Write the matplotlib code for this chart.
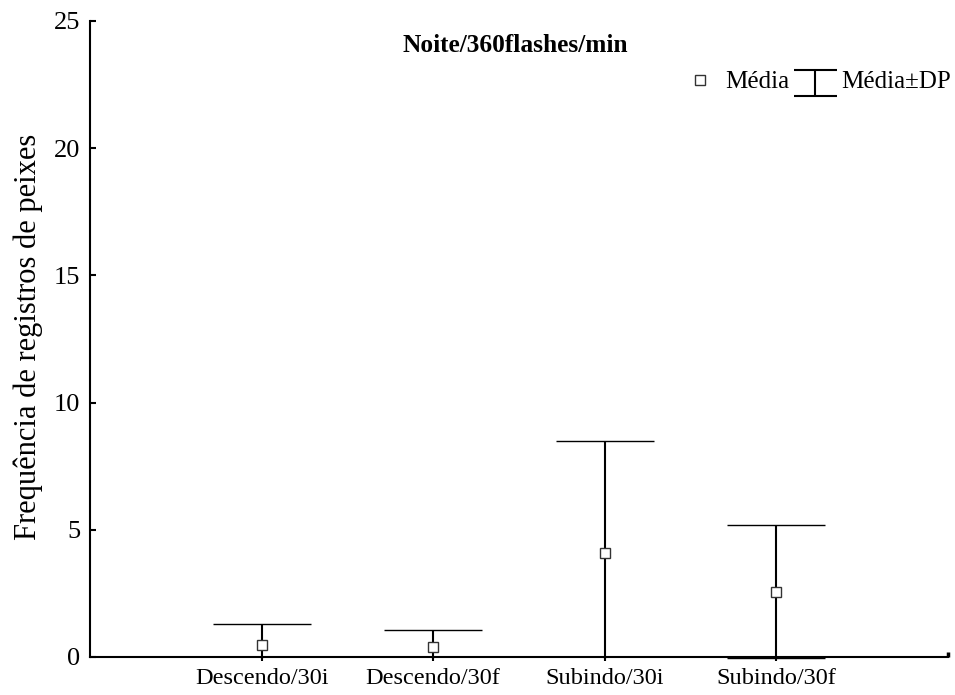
import matplotlib
matplotlib.use("Agg")
import matplotlib.pyplot as plt
from matplotlib.lines import Line2D
from matplotlib.legend_handler import HandlerBase

plt.rcParams['font.family'] = ['Liberation Serif', 'DejaVu Serif']

categories = ["Descendo/30i", "Descendo/30f", "Subindo/30i", "Subindo/30f"]
means = [0.47, 0.38, 4.10, 2.57]
sds = [0.82, 0.69, 4.39, 2.62]
yticks = [0, 5, 10, 15, 20, 25]


class HandlerWhisker(HandlerBase):
    """Legend key drawn as a capped whisker: top cap, stem, bottom cap."""

    def create_artists(self, legend, orig_handle, xdescent, ydescent,
                       width, height, fontsize, trans):
        x0, x1 = -xdescent, -xdescent + width
        xm = (x0 + x1) / 2
        yb = -ydescent - 0.42 * height
        yt = -ydescent + 1.03 * height
        kw = dict(color='black', lw=1.5, transform=trans,
                  solid_capstyle='butt')
        return [Line2D([x0, x1], [yt, yt], **kw),
                Line2D([xm, xm], [yb, yt], **kw),
                Line2D([x0, x1], [yb, yb], **kw)]


fig = plt.figure(figsize=(9.55, 6.95), dpi=100)
ax = fig.add_axes([0.0942, 0.0511, 0.8985, 0.9187])

x = list(range(1, len(categories) + 1))
ax.errorbar(x, means, yerr=sds, fmt='s', color='black', ecolor='black',
            elinewidth=1.5, capsize=35, capthick=1.6,
            markersize=7, markerfacecolor='white', markeredgecolor='#333333',
            markeredgewidth=1.0, zorder=3)

ax.set_xlim(0, 5)
ax.set_ylim(-0.1, 25)
ax.set_xticks(x)
ax.set_xticklabels(categories)
ax.set_yticks(yticks)

for s in ['top', 'right']:
    ax.spines[s].set_visible(False)
for s in ['left', 'bottom']:
    ax.spines[s].set_linewidth(1.5)
ax.spines['bottom'].set_position(('data', 0))
ax.spines['left'].set_bounds(0, 25)

ax.tick_params(axis='y', direction='in', length=4, width=1.5, labelsize=19, pad=7)
ax.tick_params(axis='x', direction='out', length=3, width=1.5, labelsize=17.5, pad=5)
# closing tick at the right end of the horizontal axis
ax.plot([5, 5], [0, 0.2], color='black', lw=2.5,
        clip_on=False, solid_capstyle='butt')

ax.set_ylabel("Frequência de registros de peixes", fontsize=22)
ax.yaxis.set_label_coords(-0.055, 0.506)

fig.text(0.54, 0.935, "Noite/360flashes/min", ha='center', va='center',
         fontsize=18.3, fontweight='bold')

# legend
mean_handle = Line2D([], [], marker='s', linestyle='none', markersize=7,
                     markerfacecolor='white', markeredgecolor='#333333',
                     markeredgewidth=1.0)
whisker_handle = Line2D([], [])
leg = ax.legend([mean_handle, whisker_handle], ["Média", "Média±DP"],
                handler_map={whisker_handle: HandlerWhisker()},
                loc='upper right', bbox_to_anchor=(1.0035, 0.922), ncol=2,
                frameon=False, fontsize=18, handlelength=1.72,
                handletextpad=0.18, columnspacing=0.16, borderaxespad=0,
                borderpad=0)

fig.savefig("out.png", dpi=100)
